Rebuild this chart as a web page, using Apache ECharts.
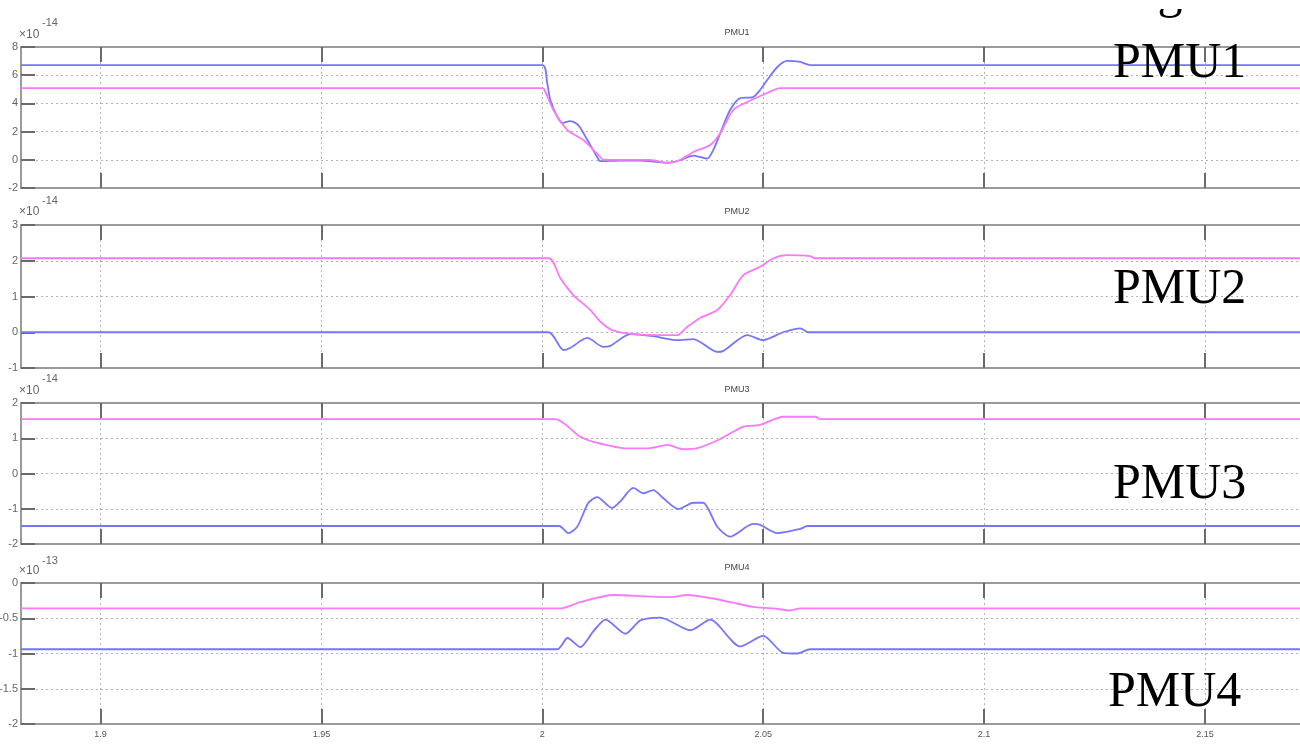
<!DOCTYPE html>
<html>
<head>
<meta charset="utf-8">
<style>
html,body{margin:0;padding:0;background:#fff;}
#c{width:1300px;height:744px;}
</style>
<script src="https://cdn.jsdelivr.net/npm/echarts@6/dist/echarts.min.js"></script>
</head>
<body>
<div id="c"></div>
<script>
// ---- data (time in s; values in units of the panel exponent) ----
var xTicks = [1.9, 1.95, 2, 2.05, 2.1, 2.15];
var panelNames = ['PMU1', 'PMU2', 'PMU3', 'PMU4'];
var panelExponents = ['-14', '-14', '-14', '-13'];
var yMins = [-2, -1, -2, -2];
var yMaxs = [8, 3, 2, 0];
var yIntervals = [2, 1, 1, 0.5];

var pmu1BlueT = [1.882, 2.0, 2.0011, 2.0018, 2.0034, 2.0045, 2.0063, 2.0081, 2.0102, 2.0124, 2.0131, 2.0175, 2.022, 2.0283, 2.031, 2.0342, 2.0373, 2.0387, 2.0403, 2.0425, 2.0448, 2.0477, 2.0493, 2.0509, 2.0532, 2.0554, 2.0584, 2.0606, 2.1715];
var pmu1BlueV = [6.72, 6.72, 5.45, 4.24, 3.04, 2.61, 2.75, 2.47, 1.40, 0.20, -0.10, -0.05, -0.05, -0.20, -0.05, 0.30, 0.08, 0.70, 1.90, 3.53, 4.38, 4.45, 4.95, 5.66, 6.58, 7.01, 6.94, 6.72, 6.72];
var pmu1MagT = [1.882, 2.0, 2.0005, 2.0025, 2.0057, 2.0093, 2.0131, 2.0138, 2.0244, 2.0283, 2.0312, 2.0342, 2.0380, 2.0403, 2.0432, 2.0464, 2.0509, 2.0538, 2.1715];
var pmu1MagV = [5.09, 5.09, 4.95, 3.53, 2.11, 1.40, 0.20, 0.0, 0.0, -0.23, 0.0, 0.55, 1.05, 1.90, 3.53, 4.10, 4.74, 5.09, 5.09];

var pmu2BlueT = [1.882, 2.0014, 2.0048, 2.0063, 2.0102, 2.0138, 2.0154, 2.0199, 2.0251, 2.0305, 2.0342, 2.0396, 2.0410, 2.0464, 2.0500, 2.0545, 2.0584, 2.0602, 2.1715];
var pmu2BlueV = [0, 0, -0.50, -0.44, -0.16, -0.41, -0.38, -0.05, -0.11, -0.22, -0.19, -0.55, -0.52, -0.08, -0.22, 0.0, 0.11, 0.0, 0];
var pmu2MagT = [1.882, 2.0014, 2.0041, 2.0070, 2.0109, 2.0131, 2.0158, 2.0206, 2.0305, 2.0328, 2.0357, 2.0396, 2.0425, 2.0455, 2.0493, 2.0523, 2.0554, 2.0606, 2.0618, 2.1715];
var pmu2MagV = [2.07, 2.07, 1.51, 1.04, 0.62, 0.30, 0.06, -0.05, -0.08, 0.15, 0.40, 0.62, 1.04, 1.60, 1.83, 2.07, 2.16, 2.13, 2.07, 2.07];

var pmu3BlueT = [1.882, 2.0038, 2.0059, 2.0079, 2.0104, 2.0124, 2.0158, 2.0176, 2.0206, 2.0229, 2.0251, 2.0274, 2.0308, 2.0342, 2.0364, 2.0396, 2.0425, 2.0477, 2.0493, 2.0532, 2.0584, 2.0600, 2.1715];
var pmu3BlueV = [-1.49, -1.49, -1.69, -1.51, -0.84, -0.67, -0.98, -0.80, -0.41, -0.56, -0.47, -0.70, -1.01, -0.83, -0.83, -1.51, -1.79, -1.43, -1.46, -1.69, -1.57, -1.49, -1.49];
var pmu3MagT = [1.882, 2.0029, 2.0086, 2.0115, 2.0192, 2.0244, 2.0283, 2.0319, 2.0351, 2.0403, 2.0455, 2.0493, 2.0545, 2.0618, 2.0629, 2.1715];
var pmu3MagV = [1.54, 1.54, 1.04, 0.90, 0.71, 0.72, 0.81, 0.69, 0.72, 0.98, 1.33, 1.38, 1.61, 1.61, 1.54, 1.54];

var pmu4BlueT = [1.882, 2.0034, 2.0057, 2.0086, 2.0115, 2.0143, 2.0188, 2.0222, 2.0267, 2.0335, 2.0380, 2.0448, 2.0500, 2.0545, 2.0577, 2.0606, 2.1715];
var pmu4BlueV = [-0.94, -0.94, -0.78, -0.91, -0.69, -0.52, -0.72, -0.53, -0.49, -0.67, -0.52, -0.90, -0.75, -0.99, -1.00, -0.94, -0.94];
var pmu4MagT = [1.882, 2.0041, 2.0086, 2.0161, 2.0238, 2.0290, 2.0328, 2.0387, 2.0432, 2.0477, 2.0523, 2.0561, 2.0584, 2.1715];
var pmu4MagV = [-0.36, -0.36, -0.27, -0.17, -0.19, -0.20, -0.17, -0.22, -0.28, -0.34, -0.36, -0.39, -0.36, -0.36];

// ---- layout ----
var X_MIN = 1.882, X_MAX = 2.1715;
var gridTops = [47, 225, 403, 583];
var gridHeights = [141, 143, 141, 141];
var BLUE = '#7676fa', MAG = '#fa78fa';
var AXIS_C = '#9a9a9a', TICK_C = '#6a6a6a', GRIDLINE_C = '#b4b4b4';

function zip(t, v) { return t.map(function (x, i) { return [x, v[i]]; }); }
var curves = [
  [zip(pmu1BlueT, pmu1BlueV), zip(pmu1MagT, pmu1MagV)],
  [zip(pmu2BlueT, pmu2BlueV), zip(pmu2MagT, pmu2MagV)],
  [zip(pmu3BlueT, pmu3BlueV), zip(pmu3MagT, pmu3MagV)],
  [zip(pmu4BlueT, pmu4BlueV), zip(pmu4MagT, pmu4MagV)]
];

var grids = [], xAxes = [], yAxes = [], series = [], graphics = [];
for (var i = 0; i < 4; i++) {
  grids.push({ left: 21, right: 0, top: gridTops[i], height: gridHeights[i], containLabel: false, outerBoundsMode: 'none' });
  xAxes.push({
    type: 'value', gridIndex: i, position: 'bottom', min: X_MIN, max: X_MAX,
    axisLine: { show: true, onZero: false, lineStyle: { color: AXIS_C, width: 2 } },
    axisTick: { show: true, inside: true, length: 15, customValues: xTicks, lineStyle: { color: TICK_C, width: 2 } },
    axisLabel: { show: i === 3, customValues: xTicks, color: '#555', fontSize: 9, margin: 6, fontFamily: 'Liberation Sans Narrow, Liberation Sans, sans-serif' },
    splitLine: { show: true, lineStyle: { color: GRIDLINE_C, type: [2, 3], width: 1 } }
  });
  yAxes.push({
    type: 'value', gridIndex: i, min: yMins[i], max: yMaxs[i], interval: yIntervals[i],
    axisLine: { show: true, onZero: false, lineStyle: { color: AXIS_C, width: 2 } },
    axisTick: { show: true, inside: true, length: 14, lineStyle: { color: TICK_C, width: 2 } },
    axisLabel: { color: '#666', fontSize: 11, margin: 3, fontFamily: 'Liberation Sans, sans-serif' },
    splitLine: { show: true, lineStyle: { color: GRIDLINE_C, type: [2, 3], width: 1 } }
  });
  series.push({
    type: 'line', xAxisIndex: i, yAxisIndex: i, data: curves[i][0], showSymbol: false, smooth: 0.25,
    lineStyle: { color: BLUE, width: 1.8 }, z: 3
  });
  series.push({
    type: 'line', xAxisIndex: i, yAxisIndex: i, data: curves[i][1], showSymbol: false, smooth: 0.25,
    lineStyle: { color: MAG, width: 1.8 }, z: 3
  });
}
for (var j = 0; j < 4; j++) {
  xAxes.push({
    type: 'value', gridIndex: j, position: 'top', min: X_MIN, max: X_MAX,
    axisLine: { show: true, onZero: false, lineStyle: { color: AXIS_C, width: 2 } },
    axisTick: { show: true, inside: true, length: 15, customValues: xTicks, lineStyle: { color: TICK_C, width: 2 } },
    axisLabel: { show: false },
    splitLine: { show: false }
  });
}

var expY = [[23, 36], [201, 213], [379, 392], [561, 572]];
var titleY = [33, 212, 390, 568];
var bigY = [64, 290, 485, 693];
var bigX = [1113, 1113, 1113, 1108];
for (var k = 0; k < 4; k++) {
  graphics.push({ type: 'text', left: 19, top: expY[k][1] - 7, style: { text: '\u00d710', fill: '#666', font: '12px "Liberation Sans", sans-serif' } });
  graphics.push({ type: 'text', left: 42, top: expY[k][0] - 6, style: { text: panelExponents[k], fill: '#666', font: '11px "Liberation Sans", sans-serif' } });
  graphics.push({ type: 'text', x: 737, y: titleY[k], style: { text: panelNames[k], fill: '#444', font: '9px "Liberation Sans", sans-serif', align: 'center', verticalAlign: 'middle' } });
  graphics.push({ type: 'text', x: bigX[k], y: bigY[k], z: 10, style: { text: panelNames[k], fill: '#000', font: '50px "Liberation Serif", serif', align: 'left', verticalAlign: 'middle' } });
}
// remnant of a glyph cut by the top edge
graphics.push({ type: 'text', x: 1170, y: -6, z: 5, style: { text: 'g', fill: '#000', font: '50px "Liberation Serif", serif', align: 'center', verticalAlign: 'middle' } });
graphics.push({ type: 'rect', z: 6, shape: { x: 1140, y: 0, width: 60, height: 9 }, style: { fill: '#fff' } });

var chart = echarts.init(document.getElementById('c'), null, { renderer: 'canvas' });
chart.setOption({
  backgroundColor: '#fff',
  animation: false,
  grid: grids,
  xAxis: xAxes,
  yAxis: yAxes,
  series: series,
  graphic: graphics
});
</script>
</body>
</html>
